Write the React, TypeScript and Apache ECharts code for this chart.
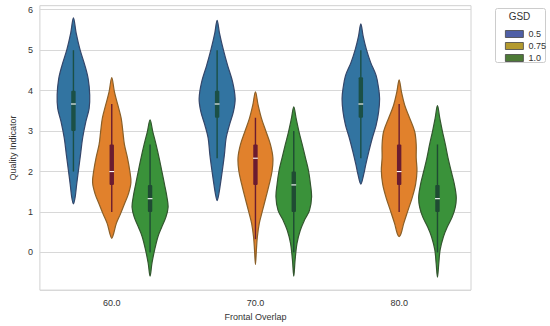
import React, { useEffect, useRef } from "react";
import * as echarts from "echarts";

const categories = ["60.0", "70.0", "80.0"];
const gsdLevels = ["0.5", "0.75", "1.0"];
const yTicks = [0, 1, 2, 3, 4, 5, 6];

// violin outlines: [value, relative half-width]
const b60: number[][] = [[5.80,0],[5.43,0.14],[5.02,0.34],[4.62,0.60],[4.29,0.77],[3.89,0.85],[3.56,0.82],[3.24,0.65],[2.83,0.48],[2.42,0.37],[2.02,0.26],[1.69,0.17],[1.37,0.09],[1.20,0]];
const o60: number[][] = [[4.32,0],[3.97,0.14],[3.64,0.32],[3.32,0.49],[2.99,0.58],[2.67,0.66],[2.34,0.82],[2.02,0.94],[1.73,1.0],[1.45,0.87],[1.20,0.66],[0.96,0.46],[0.72,0.24],[0.47,0.10],[0.35,0]];
const g60: number[][] = [[3.28,0],[2.99,0.14],[2.67,0.31],[2.34,0.47],[2.02,0.61],[1.69,0.75],[1.37,0.88],[1.12,0.94],[0.88,0.83],[0.63,0.61],[0.39,0.41],[0.07,0.24],[-0.26,0.10],[-0.585,0]];
const b70: number[][] = [[5.74,0],[5.43,0.12],[5.02,0.32],[4.62,0.55],[4.21,0.81],[3.80,0.94],[3.48,0.85],[3.15,0.64],[2.83,0.47],[2.42,0.38],[2.02,0.27],[1.69,0.17],[1.45,0.09],[1.28,0]];
const o70: number[][] = [[3.97,0],[3.64,0.14],[3.32,0.31],[2.99,0.55],[2.67,0.78],[2.34,0.91],[2.02,0.87],[1.69,0.72],[1.37,0.55],[1.04,0.37],[0.72,0.20],[0.39,0.10],[0.07,0.05],[-0.30,0]];
const g70: number[][] = [[3.60,0],[3.32,0.12],[2.99,0.27],[2.67,0.44],[2.34,0.61],[2.02,0.77],[1.69,0.87],[1.37,0.93],[1.04,0.82],[0.80,0.56],[0.55,0.34],[0.23,0.17],[-0.18,0.07],[-0.585,0]];
const b80: number[][] = [[5.65,0],[5.35,0.12],[5.02,0.29],[4.70,0.51],[4.37,0.80],[4.05,0.93],[3.80,0.98],[3.48,0.93],[3.15,0.80],[2.83,0.60],[2.50,0.42],[2.18,0.26],[1.93,0.15],[1.69,0]];
const o80: number[][] = [[4.27,0],[3.97,0.12],[3.64,0.29],[3.32,0.55],[2.99,0.81],[2.67,0.89],[2.34,0.89],[2.02,0.93],[1.69,0.86],[1.37,0.69],[1.04,0.46],[0.72,0.24],[0.47,0.10],[0.39,0]];
const g80: number[][] = [[3.63,0],[3.32,0.12],[2.99,0.26],[2.67,0.41],[2.34,0.55],[2.02,0.71],[1.69,0.88],[1.37,0.98],[1.12,0.93],[0.88,0.77],[0.63,0.51],[0.39,0.31],[0.07,0.14],[-0.26,0.07],[-0.61,0]];

// inner box stats: [whisker low, q1, median, q3, whisker high]
const boxB = [[2.0,3.0,3.67,4.0,5.0],[2.33,3.33,3.67,4.0,5.0],[2.33,3.33,3.67,4.33,5.0]];
const boxO = [[1.0,1.67,2.0,2.67,3.67],[0.33,1.67,2.33,2.67,3.33],[1.0,1.67,2.0,2.67,3.67]];
const boxG = [[0.0,1.0,1.33,1.67,2.67],[0.0,1.0,1.67,2.0,3.0],[0.0,1.0,1.33,1.67,2.67]];

const profiles = [[b60, b70, b80], [o60, o70, o80], [g60, g70, g80]];
const boxes = [boxB, boxO, boxG];

const fills = ["#3274a1", "#e1812c", "#3a923a"];
const edges = ["#34466a", "#8a5f28", "#33562f"];
const inners = ["#1b5046", "#6b1c30", "#1f4b33"];
const legendColors = ["#4f5fa6", "#b39a2e", "#4d7a36"];

const FONT = "'Liberation Sans', Arial, sans-serif";

export default function App() {
  const ref = useRef<HTMLDivElement>(null);
  useEffect(() => {
    if (!ref.current) return;
    const chart = echarts.init(ref.current, undefined, { renderer: "svg" });

    const renderItem = (params: any, api: any) => {
      const s = params.seriesIndex;
      const c = params.dataIndex;
      const center = api.coord([c, 0]);
      const band = api.size([1, 0])[0];
      const hueW = (band * 0.8) / 3;
      const cx = center[0] + (s - 1) * hueW;
      const halfMax = hueW / 2;
      const prof = profiles[s][c];
      const yOf = (v: number) => api.coord([c, v])[1];
      const right = prof.map((p) => [cx + p[1] * halfMax, yOf(p[0])]);
      const left = prof
        .slice(1, prof.length - 1)
        .reverse()
        .map((p) => [cx - p[1] * halfMax, yOf(p[0])]);
      const pts = right.concat(left);
      const b = boxes[s][c];
      return {
        type: "group",
        children: [
          {
            type: "polygon",
            shape: { points: pts, smooth: 0.35 },
            style: { fill: fills[s], stroke: edges[s], lineWidth: 1.2 },
          },
          {
            type: "line",
            shape: { x1: cx, y1: yOf(b[4]), x2: cx, y2: yOf(b[0]) },
            style: { stroke: inners[s], lineWidth: 1.4 },
          },
          {
            type: "rect",
            shape: { x: cx - 2.2, y: yOf(b[3]), width: 4.4, height: yOf(b[1]) - yOf(b[3]), r: 1 },
            style: { fill: inners[s] },
          },
          {
            type: "line",
            shape: { x1: cx - 2.4, y1: yOf(b[2]), x2: cx + 2.4, y2: yOf(b[2]) },
            style: { stroke: "#ffffff", lineWidth: 1.1 },
          },
        ],
      };
    };

    const option: any = {
      animation: false,
      backgroundColor: "#ffffff",
      textStyle: { fontFamily: FONT },
      grid: {
        left: 28.5,
        right: 79,
        top: 5.7,
        bottom: 32,
        show: true,
        borderColor: "#d2d2d2",
        borderWidth: 1,
        backgroundColor: "transparent",
      },
      legend: {
        orient: "vertical",
        left: 500,
        top: 23,
        itemWidth: 18,
        itemHeight: 7,
        itemGap: 0,
        icon: "rect",
        textStyle: { fontSize: 9, color: "#333", lineHeight: 12, fontFamily: FONT },
        data: gsdLevels.map((g, i) => ({
          name: g,
          itemStyle: { color: legendColors[i], borderColor: "#444", borderWidth: 0.8 },
        })),
      },
      graphic: [
        {
          type: "rect",
          shape: { x: 495.5, y: 8.5, width: 50, height: 54, r: 2 },
          style: { fill: "#ffffff", stroke: "#cccccc", lineWidth: 1 },
          z: -1,
        },
        {
          type: "text",
          x: 519.5,
          y: 16.5,
          style: {
            text: "GSD",
            fontSize: 10,
            fill: "#333",
            fontFamily: FONT,
            align: "center",
            verticalAlign: "middle",
          },
        },
      ],
      xAxis: {
        type: "category",
        data: categories,
        boundaryGap: true,
        name: "Frontal Overlap",
        nameLocation: "middle",
        nameGap: 16,
        nameTextStyle: { fontSize: 9, color: "#333", fontFamily: FONT },
        axisLine: { show: false },
        axisTick: { show: false },
        axisLabel: { fontSize: 9, color: "#333", margin: 8, fontFamily: FONT },
        splitLine: { show: false },
      },
      yAxis: {
        type: "value",
        min: -0.93,
        max: 6.1,
        minInterval: 1,
        maxInterval: 1,
        name: "Quality Indicator",
        nameLocation: "middle",
        nameGap: 13,
        nameRotate: 90,
        nameTextStyle: { fontSize: 9, color: "#333", fontFamily: FONT },
        axisLine: { show: false },
        axisTick: { show: false },
        axisLabel: {
          fontSize: 9,
          color: "#333",
          margin: 7,
          fontFamily: FONT,
          formatter: (v: number) => (yTicks.indexOf(Math.round(v * 1000) / 1000) >= 0 ? String(v) : ""),
        },
        splitLine: { show: true, lineStyle: { color: "#d8d8d8", width: 1 } },
      },
      series: gsdLevels.map((g, i) => ({
        type: "custom",
        name: g,
        renderItem,
        itemStyle: { color: legendColors[i] },
        data: categories.map((_, ci) => [ci]),
        encode: { x: 0 },
      })),
    };
    chart.setOption(option);
    return () => chart.dispose();
  }, []);
  return (
    <div
      ref={ref}
      style={{ width: 550, height: 326, position: "fixed", left: 0, top: 0 }}
    />
  );
}
